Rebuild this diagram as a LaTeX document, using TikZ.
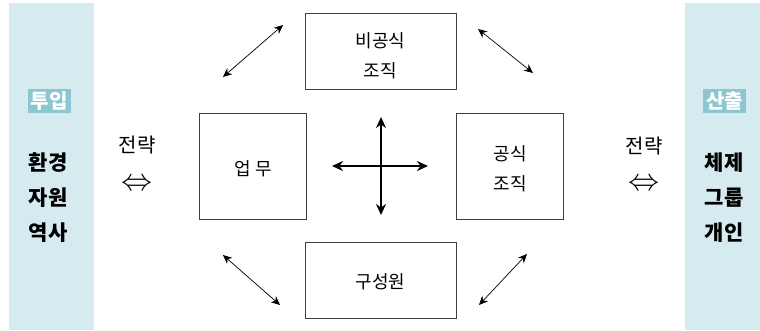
\documentclass[tikz,border=0pt]{standalone}
\usepackage{fontspec}
\usepackage{graphicx}
\setmainfont{Noto Sans CJK KR}
\usetikzlibrary{arrows.meta}
\definecolor{panel}{HTML}{D6EBF0}
\definecolor{tagc}{HTML}{8CC7D1}
\tikzset{
  box/.style={draw=black!75, line width=0.8pt, inner sep=0pt},
  lbl/.style={font=\fontsize{18}{30}\selectfont, align=center, inner sep=0pt},
  slbl/.style={font=\fontsize{20}{24}\selectfont, align=center, inner sep=0pt},
  bld/.style={font=\fontsize{21}{35}\selectfont\bfseries, align=center, inner sep=0pt},
  tag/.style={fill=tagc, text=white, font=\fontsize{20}{22}\selectfont\bfseries, inner sep=0pt, minimum width=43pt, minimum height=24pt},
  thin/.style={line width=0.7pt, {Stealth[length=9pt,width=8pt]}-{Stealth[length=9pt,width=8pt]}},
  thick/.style={line width=2.2pt, {Stealth[length=11pt,width=10pt]}-{Stealth[length=11pt,width=10pt]}},
  eqv/.style={inner sep=0pt}
}
\newcommand{\myeqv}{\resizebox{31pt}{!}{$\Leftrightarrow$}}
\begin{document}
\begin{tikzpicture}[x=1pt,y=-1pt]
\useasboundingbox (0,0) rectangle (760,330);
% side panels
\fill[panel] (9,3) rectangle (94,330);
\fill[panel] (685,3) rectangle (760,330);
\node[tag] (tin) at (49,101) {투입};
\node[bld] (lin) at (48,198) {환경\\자원\\역사};
\node[tag] (tout) at (724.5,101) {산출};
\node[bld] (lout) at (724,198) {체제\\그룹\\개인};
% strategy labels
\node[slbl] (sl) at (137,145) {전략};
\node[eqv] (el) at (136.5,185) {\myeqv};
\node[slbl] (sr) at (644,146) {전략};
\node[eqv] (er) at (644,185) {\myeqv};
% boxes
\node[box, minimum width=151pt, minimum height=76pt] (top) at (380.5,51) {};
\node[lbl] at (380.5,56) {비공식\\조직};
\node[box, minimum width=151pt, minimum height=76pt] (bot) at (380.5,280) {};
\node[lbl] at (380.5,282) {구성원};
\node[box, minimum width=107pt, minimum height=106pt] (left) at (252.5,166) {};
\node[lbl] at (253,169) {업 무};
\node[box, minimum width=107pt, minimum height=106pt] (right) at (509.5,166) {};
\node[lbl] at (510,169) {공식\\조직};
% cross
\coordinate (hl) at (332,166);
\coordinate (hr) at (428,166);
\coordinate (vt) at (381,117);
\coordinate (vb) at (381,215);
\draw[thick] (hl) -- (hr);
\draw[thick] (vt) -- (vb);
% diagonal arrows
\coordinate (a1) at (223,77); \coordinate (a2) at (283,25);
\coordinate (b1) at (478,29); \coordinate (b2) at (533,73);
\coordinate (c1) at (223,255); \coordinate (c2) at (280,305);
\coordinate (d1) at (479,305); \coordinate (d2) at (527,254);
\draw[thin] (a1) -- (a2);
\draw[thin] (b1) -- (b2);
\draw[thin] (c1) -- (c2);
\draw[thin] (d1) -- (d2);
\end{tikzpicture}
\end{document}
